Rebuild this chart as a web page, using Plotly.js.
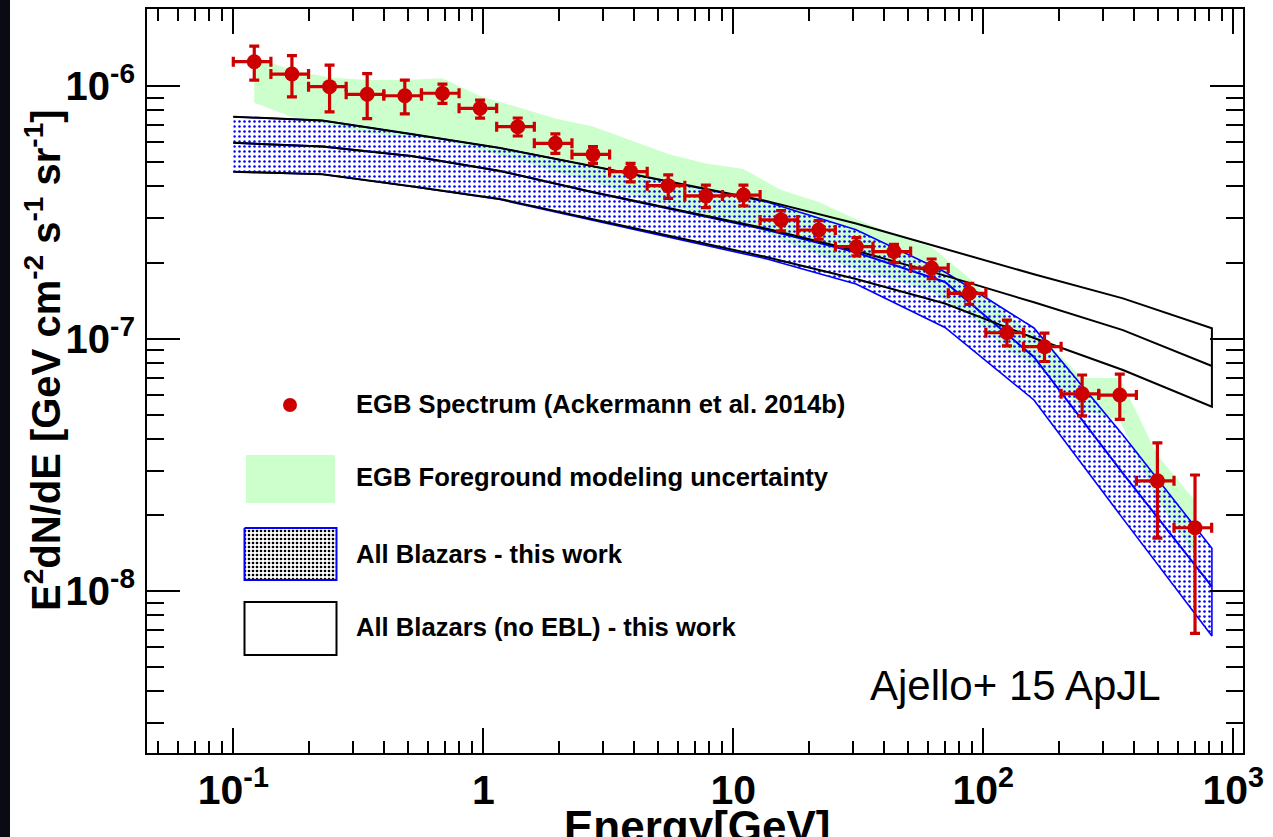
<!DOCTYPE html>
<html><head><meta charset="utf-8">
<script src="https://cdn.plot.ly/plotly-3.0.1.min.js"></script>
<style>html,body{margin:0;padding:0;background:#fff;overflow:hidden;} #chart{width:1273px;height:837px;}</style>
</head><body><div id="chart"></div>
<script>
// ---- EGB spectrum (Ackermann et al. 2014b), E^2 dN/dE [GeV cm^-2 s^-1 sr^-1] ----
const binLow  = [0.1, 0.1414, 0.2, 0.2828, 0.4, 0.5657, 0.8, 1.131, 1.6, 2.263, 3.2, 4.525, 6.4, 9.051, 12.8, 18.1, 25.6, 36.2, 51.2, 72.4, 102.4, 144.8, 204.8, 289.6, 409.6, 579.2];
const binHigh = [0.1414, 0.2, 0.2828, 0.4, 0.5657, 0.8, 1.131, 1.6, 2.263, 3.2, 4.525, 6.4, 9.051, 12.8, 18.1, 25.6, 36.2, 51.2, 72.4, 102.4, 144.8, 204.8, 289.6, 409.6, 579.2, 819.2];
const egbEnergy = [0.1213, 0.1716, 0.2427, 0.3432, 0.4854, 0.6865, 0.9708, 1.373, 1.942, 2.746, 3.883, 5.492, 7.767, 10.98, 15.53, 21.97, 31.07, 43.93, 62.13, 87.87, 124.3, 175.7, 248.5, 351.5, 497.1, 702.9];
const egbFlux = [1.248e-6, 1.115e-6, 9.94e-7, 9.27e-7, 9.15e-7, 9.36e-7, 8.16e-7, 6.90e-7, 5.93e-7, 5.36e-7, 4.58e-7, 4.03e-7, 3.67e-7, 3.70e-7, 2.95e-7, 2.69e-7, 2.31e-7, 2.21e-7, 1.90e-7, 1.51e-7, 1.054e-7, 9.28e-8, 6.04e-8, 5.97e-8, 2.73e-8, 1.78e-8];
const egbFluxHigh = [1.44e-6, 1.32e-6, 1.21e-6, 1.12e-6, 1.055e-6, 1.018e-6, 8.80e-7, 7.47e-7, 6.46e-7, 5.75e-7, 4.94e-7, 4.45e-7, 4.05e-7, 4.05e-7, 3.21e-7, 2.93e-7, 2.51e-7, 2.36e-7, 2.065e-7, 1.653e-7, 1.183e-7, 1.05e-7, 7.17e-8, 7.22e-8, 3.86e-8, 2.88e-8];
const egbFluxLow  = [1.055e-6, 9.06e-7, 7.90e-7, 7.43e-7, 7.75e-7, 8.54e-7, 7.46e-7, 6.34e-7, 5.41e-7, 4.94e-7, 4.17e-7, 3.59e-7, 3.30e-7, 3.35e-7, 2.67e-7, 2.475e-7, 2.125e-7, 1.997e-7, 1.727e-7, 1.366e-7, 9.35e-8, 8.11e-8, 4.94e-8, 4.78e-8, 1.62e-8, 6.8e-9];
// ---- EGB foreground modelling uncertainty band ----
const fgUpper = [1.303e-6, 1.157e-6, 1.081e-6, 1.056e-6, 1.056e-6, 1.073e-6, 9.13e-7, 8.25e-7, 7.43e-7, 6.91e-7, 6.11e-7, 5.38e-7, 4.93e-7, 4.69e-7, 3.87e-7, 3.47e-7, 2.97e-7, 2.59e-7, 2.30e-7, 1.736e-7, 1.239e-7, 9.86e-8, 6.98e-8, 6.98e-8, 3.46e-8, 2.27e-8];
const fgLower = [8.59e-7, 7.54e-7, 7.01e-7, 6.51e-7, 6.28e-7, 6.11e-7, 5.58e-7, 5.09e-7, 4.56e-7, 4.17e-7, 3.70e-7, 3.38e-7, 3.08e-7, 2.89e-7, 2.455e-7, 2.14e-7, 1.867e-7, 1.705e-7, 1.528e-7, 1.239e-7, 9.01e-8, 7.50e-8, 5.21e-8, 4.75e-8, 2.29e-8, 1.389e-8];
// ---- All blazars model (this work) ----
const modelEnergy = [0.1, 0.2269, 0.5148, 1.168, 2.651, 6.015, 13.65, 30.97, 70.27, 159.4, 361.8, 821.2];
const blazarUpper = [7.556e-7, 7.30e-7, 6.45e-7, 5.68e-7, 4.84e-7, 4.11e-7, 3.47e-7, 2.695e-7, 1.834e-7, 1.101e-7, 4.15e-8, 1.476e-8];
const blazarMid   = [5.96e-7, 5.76e-7, 5.28e-7, 4.61e-7, 3.82e-7, 3.21e-7, 2.69e-7, 2.193e-7, 1.674e-7, 8.45e-8, 2.924e-8, 1.040e-8];
const blazarLower = [4.576e-7, 4.47e-7, 4.00e-7, 3.55e-7, 2.97e-7, 2.477e-7, 2.065e-7, 1.643e-7, 1.106e-7, 5.71e-8, 1.935e-8, 6.63e-9];
const noEblUpper  = [7.556e-7, 7.30e-7, 6.45e-7, 5.68e-7, 4.84e-7, 4.11e-7, 3.50e-7, 2.853e-7, 2.262e-7, 1.797e-7, 1.442e-7, 1.098e-7];
const noEblMid    = [5.96e-7, 5.76e-7, 5.28e-7, 4.61e-7, 3.83e-7, 3.23e-7, 2.72e-7, 2.227e-7, 1.774e-7, 1.391e-7, 1.080e-7, 7.78e-8];
const noEblLower  = [4.576e-7, 4.47e-7, 4.01e-7, 3.57e-7, 2.99e-7, 2.505e-7, 2.099e-7, 1.720e-7, 1.376e-7, 1.005e-7, 7.50e-8, 5.37e-8];
// ---- tick labels and texts ----
const xTickVals = [0.1, 1, 10, 100, 1000];
const xTickText = ['10<sup>-1</sup>', '1', '10', '10<sup>2</sup>', '10<sup>3</sup>'];
const yTickVals = [1e-8, 1e-7, 1e-6];
const yTickText = ['10<sup>-8</sup>', '10<sup>-7</sup>', '10<sup>-6</sup>'];
const legendLabels = ['EGB Spectrum (Ackermann et al. 2014b)', 'EGB Foreground modeling uncertainty', 'All Blazars - this work', 'All Blazars (no EBL) - this work'];
const xTitle = 'Energy[GeV]';
const yTitle = 'E<sup>2</sup>dN/dE [GeV cm<sup>-2</sup> s<sup>-1</sup> sr<sup>-1</sup>]';
const credit = 'Ajello+ 15 ApJL';

const RED = '#cc0000', GREEN = '#ccffcc', BLUE = '#0000ff';
const rev = a => a.slice().reverse();
const FONT = 'Liberation Sans, Arial, Helvetica, sans-serif';

// plot-area geometry (pixels) used to place legend items in paper units
const L = 147, T = 9, W = 1096, H = 744;
const px = v => (v - L) / W;
const py = v => (T + H - v) / H;

const traces = [
  { x: egbEnergy.concat(rev(egbEnergy)), y: fgUpper.concat(rev(fgLower)),
    mode: 'lines', fill: 'toself', fillcolor: GREEN, line: {width: 0, color: GREEN},
    hoverinfo: 'skip', showlegend: false },
  { x: modelEnergy.concat(rev(modelEnergy)), y: blazarUpper.concat(rev(blazarLower)),
    mode: 'lines', fill: 'toself', fillcolor: 'rgba(0,0,0,0)',
    fillpattern: {shape: '.', fgcolor: BLUE, bgcolor: 'rgba(0,0,0,0)', size: 5, solidity: 0.2},
    line: {color: BLUE, width: 1.6}, hoverinfo: 'skip', showlegend: false },
  { x: modelEnergy, y: blazarMid, mode: 'lines', line: {color: BLUE, width: 2}, showlegend: false },
  { x: modelEnergy.concat(rev(modelEnergy)), y: noEblUpper.concat(rev(noEblLower)),
    mode: 'lines', line: {color: '#000', width: 2}, showlegend: false },
  { x: modelEnergy, y: noEblMid, mode: 'lines', line: {color: '#000', width: 2}, showlegend: false },
  { x: egbEnergy, y: egbFlux, mode: 'markers', showlegend: false,
    marker: {color: RED, size: 15, symbol: 'circle'},
    error_x: {type: 'data', symmetric: false,
      array: binHigh.map((h, i) => h - egbEnergy[i]),
      arrayminus: binLow.map((l, i) => egbEnergy[i] - l),
      color: RED, thickness: 3.2, width: 5},
    error_y: {type: 'data', symmetric: false,
      array: egbFluxHigh.map((h, i) => h - egbFlux[i]),
      arrayminus: egbFluxLow.map((l, i) => egbFlux[i] - l),
      color: RED, thickness: 3.2, width: 5} },
  // legend swatches (overlay axes in plot-fraction units)
  { x: [px(290)], y: [py(405)], xaxis: 'x2', yaxis: 'y2', mode: 'markers',
    marker: {color: RED, size: 14}, showlegend: false, hoverinfo: 'skip' },
  { x: [px(244.5), px(336.5), px(336.5), px(244.5), px(244.5)],
    y: [py(528), py(528), py(580), py(580), py(528)], xaxis: 'x2', yaxis: 'y2',
    mode: 'lines', fill: 'toself', fillcolor: 'rgba(0,0,0,0)',
    fillpattern: {shape: '.', fgcolor: '#000', bgcolor: '#fff', size: 4, solidity: 0.35},
    line: {color: BLUE, width: 2}, showlegend: false, hoverinfo: 'skip' }
];

const axisCommon = {
  type: 'log', showgrid: false, zeroline: false, showline: true, linecolor: '#000', linewidth: 2,
  mirror: 'ticks', ticks: 'inside', tickcolor: '#000', tickwidth: 2, tickmode: 'array'
};

const legendY = [404, 477, 554, 627];
const annotations = legendLabels.map((t, i) => ({
  text: t, xref: 'paper', yref: 'paper', x: px(354), y: py(legendY[i]),
  xanchor: 'left', yanchor: 'middle', showarrow: false,
  font: {family: FONT, size: 25.6, color: '#000', weight: 700}
}));
annotations.push({ text: credit, xref: 'paper', yref: 'paper', x: px(868), y: py(685),
  xanchor: 'left', yanchor: 'middle', showarrow: false,
  font: {family: FONT, size: 42, color: '#000'} });
annotations.push({ text: yTitle, xref: 'paper', yref: 'paper', x: px(43), y: py(360),
  xanchor: 'center', yanchor: 'middle', textangle: -90, showarrow: false,
  font: {family: FONT, size: 40, color: '#000', weight: 700} });
annotations.push({ text: xTitle, xref: 'paper', yref: 'paper', x: px(697), y: py(800),
  xanchor: 'center', yanchor: 'top', showarrow: false,
  font: {family: FONT, size: 44, color: '#000', weight: 700} });

const minorCommon = {ticks: 'inside', tickwidth: 2, tickcolor: '#000', tickmode: 'linear', dtick: 'D1', showgrid: false};

const layout = {
  width: 1273, height: 837,
  margin: {l: L, r: 1273 - L - W, t: T, b: 837 - T - H},
  paper_bgcolor: '#fff', plot_bgcolor: '#fff', showlegend: false,
  xaxis: Object.assign({}, axisCommon, {range: [-1.3452, 3.0388], ticklen: 25,
    tickvals: xTickVals, ticktext: xTickText,
    tickfont: {family: FONT, size: 41, color: '#000', weight: 700},
    minor: Object.assign({}, minorCommon, {ticklen: 12})}),
  yaxis: Object.assign({}, axisCommon, {range: [-8.6416, -5.695], ticklen: 33,
    tickvals: yTickVals, ticktext: yTickText,
    tickfont: {family: FONT, size: 40, color: '#000', weight: 700}, ticklabelstandoff: 2,
    minor: Object.assign({}, minorCommon, {ticklen: 17})}),
  xaxis2: {overlaying: 'x', anchor: 'y2', range: [0, 1], visible: false, fixedrange: true},
  yaxis2: {overlaying: 'y', anchor: 'x2', range: [0, 1], visible: false, fixedrange: true},
  shapes: [
    {type: 'rect', xref: 'paper', yref: 'paper', x0: px(246), x1: px(335), y0: py(503), y1: py(455),
     fillcolor: GREEN, line: {width: 0}},
    {type: 'rect', xref: 'paper', yref: 'paper', x0: px(244.5), x1: px(336.5), y0: py(655), y1: py(602),
     fillcolor: '#fff', line: {color: '#000', width: 2}},
    {type: 'rect', xref: 'paper', yref: 'paper', x0: px(0), x1: px(10), y0: py(837), y1: py(0),
     fillcolor: '#0a0a12', line: {width: 0}, layer: 'above'}
  ],
  annotations: annotations
};

Plotly.newPlot('chart', traces, layout, {displayModeBar: false, staticPlot: true});
</script>
</body></html>
